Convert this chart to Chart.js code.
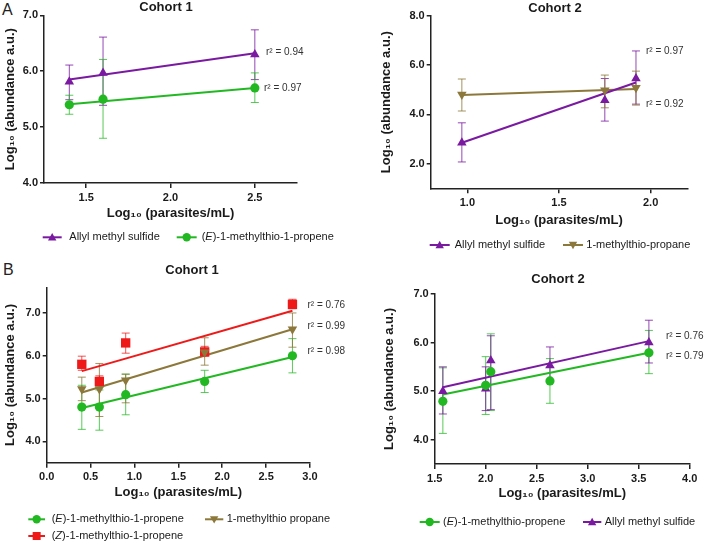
<!DOCTYPE html>
<html>
<head>
<meta charset="utf-8">
<script src="https://cdn.jsdelivr.net/npm/chart.js@4.4.1/dist/chart.umd.min.js"></script>
<style>
  body { margin: 0; background: #fff; width: 706px; height: 543px; position: relative; overflow: hidden;
         font-family: "Liberation Sans", Arial, sans-serif; }
  .panel { position: absolute; }
  .letter { position: absolute; font-size: 16px; color: #222; line-height: 16px; }
</style>
</head>
<body>
<div class="letter" style="left:2px;top:2px">A</div>
<div class="letter" style="left:3px;top:262px">B</div>
<div class="panel" style="left:0;top:0"><canvas id="a1" width="353" height="272"></canvas></div>
<div class="panel" style="left:353px;top:0"><canvas id="a2" width="353" height="272"></canvas></div>
<div class="panel" style="left:0;top:258px"><canvas id="b1" width="353" height="285"></canvas></div>
<div class="panel" style="left:353px;top:258px"><canvas id="b2" width="353" height="285"></canvas></div>
<script>
// ---- data ----
// A, cohort 1
const a1X = [1.4, 1.6, 2.5];
const a1Allyl = [5.81, 5.97, 6.30];
const a1AllylLo = [5.49, 5.39, 5.85];
const a1AllylHi = [6.11, 6.61, 6.74];
const a1AllylFit = [5.85, 6.32];
const a1E = [5.40, 5.50, 5.70];
const a1ELo = [5.23, 4.80, 5.44];
const a1EHi = [5.57, 6.21, 5.97];
const a1EFit = [5.41, 5.70];
const a1Names = ['Allyl methyl sulfide', '(*E*)-1-methylthio-1-propene'];
const a1R2 = ['r² = 0.94', 'r² = 0.97'];
const a1XTicks = [1.5, 2.0, 2.5];
const a1YTicks = [4, 5, 6, 7];

// A, cohort 2
const a2X = [0.97, 1.75, 1.92];
const a2Allyl = [2.85, 4.58, 5.46];
const a2AllylLo = [2.07, 3.73, 4.42];
const a2AllylHi = [3.66, 5.46, 6.58];
const a2AllylFit = [2.85, 5.30];
const a2Prop = [4.81, 4.98, 5.08];
const a2PropLo = [4.14, 4.27, 4.38];
const a2PropHi = [5.44, 5.60, 5.76];
const a2PropFit = [4.79, 5.03];
const a2Names = ['Allyl methyl sulfide', '1-methylthio-propane'];
const a2R2 = ['r² = 0.97', 'r² = 0.92'];
const a2XTicks = [1.0, 1.5, 2.0];
const a2YTicks = [2, 4, 6, 8];

// B, cohort 1
const b1X = [0.4, 0.6, 0.9, 1.8, 2.8];
const b1E = [4.80, 4.80, 5.09, 5.40, 6.00];
const b1ELo = [4.28, 4.26, 4.62, 5.14, 5.60];
const b1EHi = [5.31, 5.20, 5.57, 5.66, 6.40];
const b1EFit = [4.78, 5.97];
const b1Prop = [5.22, 5.22, 5.43, 6.08, 6.62];
const b1PropLo = [4.95, 4.58, 4.90, 5.78, 6.20];
const b1PropHi = [5.50, 5.82, 5.57, 6.42, 7.00];
const b1PropFit = [5.14, 6.62];
const b1Z = [5.80, 5.40, 6.30, 6.09, 7.20];
const b1ZLo = [5.66, 5.27, 6.06, 5.99, 7.10];
const b1ZHi = [5.99, 5.53, 6.53, 6.22, 7.32];
const b1ZFit = [5.64, 7.05];
const b1Names = ['(*E*)-1-methylthio-1-propene', '1-methylthio propane', '(*Z*)-1-methylthio-1-propene'];
const b1R2 = ['r² = 0.76', 'r² = 0.99', 'r² = 0.98'];
const b1XTicks = [0.0, 0.5, 1.0, 1.5, 2.0, 2.5, 3.0];
const b1YTicks = [4, 5, 6, 7];

// B, cohort 2
const b2X = [1.58, 2.0, 2.05, 2.63, 3.6];
const b2E = [4.79, 5.12, 5.40, 5.21, 5.79];
const b2ELo = [4.13, 4.52, 4.60, 4.75, 5.36];
const b2EHi = [5.48, 5.71, 6.18, 5.67, 6.25];
const b2EFit = [4.93, 5.79];
const b2Allyl = [5.00, 5.05, 5.63, 5.53, 6.00];
const b2AllylLo = [4.53, 4.60, 4.62, 5.20, 5.58];
const b2AllylHi = [5.50, 5.50, 6.14, 5.91, 6.46];
const b2AllylFit = [5.08, 6.03];
const b2Names = ['(*E*)-1-methylthio-propene', 'Allyl methyl sulfide'];
const b2R2 = ['r² = 0.76', 'r² = 0.79'];
const b2XTicks = [1.5, 2.0, 2.5, 3.0, 3.5, 4.0];
const b2YTicks = [4, 5, 6, 7];

// ---- styles ----
const PURPLE = '#7a1aa0', GREEN = '#22b822', OLIVE = '#8c783a', RED = '#ee1a1a';
const ERR = { [PURPLE]: 'rgba(122,26,160,0.8)', [GREEN]: 'rgba(34,184,34,0.75)',
              [OLIVE]: 'rgba(140,120,58,0.8)', [RED]: 'rgba(238,26,26,0.75)' };
const MARK = {
  tri: { pointStyle: 'triangle', rotation: 0, radius: 5.5 },
  inv: { pointStyle: 'triangle', rotation: 180, radius: 5.5 },
  dot: { pointStyle: 'circle', rotation: 0, radius: 4.6 },
  sq:  { pointStyle: 'rect', rotation: 0, radius: 6.6 }
};
const TXT = '#1a1a1a';
Chart.defaults.font.family = '"Liberation Sans", Arial, sans-serif';

const errorBars = {
  id: 'errorBars',
  beforeDatasetsDraw(chart) {
    const { ctx, scales: { x, y } } = chart;
    chart.data.datasets.forEach(ds => {
      if (!ds.errLo) return;
      ctx.save();
      ctx.strokeStyle = ERR[ds.borderColor];
      ctx.lineWidth = 1;
      ds.data.forEach((p, i) => {
        const px = x.getPixelForValue(p.x);
        const t = y.getPixelForValue(ds.errHi[i]);
        const b = y.getPixelForValue(ds.errLo[i]);
        ctx.beginPath();
        ctx.moveTo(px, t); ctx.lineTo(px, b);
        ctx.moveTo(px - 4, t); ctx.lineTo(px + 4, t);
        ctx.moveTo(px - 4, b); ctx.lineTo(px + 4, b);
        ctx.stroke();
      });
      ctx.restore();
    });
  }
};

function drawMarker(ctx, kind, x, y, color, r) {
  ctx.fillStyle = color;
  ctx.beginPath();
  if (kind === 'dot') ctx.arc(x, y, r, 0, Math.PI * 2);
  else if (kind === 'sq') ctx.rect(x - r, y - r, 2 * r, 2 * r);
  else if (kind === 'tri') { ctx.moveTo(x, y - r); ctx.lineTo(x + r, y + r * 0.75); ctx.lineTo(x - r, y + r * 0.75); }
  else { ctx.moveTo(x, y + r); ctx.lineTo(x + r, y - r * 0.75); ctx.lineTo(x - r, y - r * 0.75); }
  ctx.closePath();
  ctx.fill();
}

function drawRich(ctx, text, x, y) {
  text.split('*').forEach((part, i) => {
    ctx.font = (i % 2 ? 'italic ' : '') + '11px "Liberation Sans", Arial, sans-serif';
    ctx.fillText(part, x, y);
    x += ctx.measureText(part).width;
  });
}

const deco = {
  id: 'deco',
  afterDraw(chart, args, o) {
    const ctx = chart.ctx;
    ctx.save();
    ctx.fillStyle = TXT;
    ctx.textBaseline = 'middle';
    ctx.textAlign = 'center';
    ctx.font = 'bold 13px "Liberation Sans", Arial, sans-serif';
    ctx.fillText(o.title.text, o.title.x, o.title.y);
    ctx.textAlign = 'left';
    ctx.fillStyle = '#333';
    ctx.font = '10px "Liberation Sans", Arial, sans-serif';
    o.r2.forEach(r => ctx.fillText(r.text, r.x, r.y));
    o.legend.forEach(it => {
      ctx.strokeStyle = it.color;
      ctx.lineWidth = 2;
      ctx.beginPath();
      ctx.moveTo(it.x1, it.y); ctx.lineTo(it.x2, it.y);
      ctx.stroke();
      drawMarker(ctx, it.mark, (it.x1 + it.x2) / 2, it.y, it.color, it.mark === 'sq' ? 4 : 4.2);
      ctx.fillStyle = TXT;
      drawRich(ctx, it.label, it.tx, it.y);
    });
    ctx.restore();
  }
};

function series(xs, ys, lo, hi, fit, color, mark) {
  const pts = xs.map((x, i) => ({ x, y: ys[i] }));
  const m = MARK[mark];
  return [
    { data: pts, errLo: lo, errHi: hi, borderColor: color, backgroundColor: color,
      pointStyle: m.pointStyle, rotation: m.rotation, pointRadius: m.radius, pointBorderWidth: 0,
      showLine: false, order: 1, clip: false },
    { data: [{ x: xs[0], y: fit[0] }, { x: xs[xs.length - 1], y: fit[1] }], borderColor: color,
      backgroundColor: color, borderWidth: 2, pointRadius: 0, showLine: true, order: 2, clip: false }
  ];
}

function axis(min, max, ticks, size, title, isX) {
  return {
    type: 'linear', min, max,
    afterBuildTicks: s => { s.ticks = ticks.map(v => ({ value: v })); },
    afterFit: s => { if (isX) s.height = size; else s.width = size; },
    border: { display: true, color: '#222', width: 1.5 },
    grid: { display: true, drawOnChartArea: false, drawTicks: true, tickLength: isX ? 5 : 4,
            color: '#222', lineWidth: 1.5 },
    ticks: { callback: v => Number(v).toFixed(1), color: TXT, padding: isX ? 3 : 2,
             font: { size: 11, weight: 'bold' }, maxRotation: 0, autoSkip: false },
    title: { display: true, text: title, color: TXT, padding: 0,
             font: { size: 13, weight: 'bold', lineHeight: 1 } }
  };
}

function makePanel(id, p) {
  const { ox, oy, w, h, area } = p;
  const padLeft = p.yTitleX - ox - 6.5;
  const yW = area.L - ox - padLeft;
  const xBottom = p.xTitleY + 6.5 - oy;
  const xH = p.xTitleY + 6.5 - area.B;
  const rel = o => Object.assign({}, o, { x: o.x - ox, y: o.y - oy });
  new Chart(document.getElementById(id), {
    type: 'scatter',
    data: { datasets: p.datasets },
    options: {
      responsive: false, animation: false, devicePixelRatio: 1,
      layout: { padding: { left: padLeft, top: area.T - oy, right: ox + w - area.R, bottom: h - xBottom } },
      scales: {
        x: axis(p.xMin, p.xMax, p.xTicks, xH, 'Log₁₀ (parasites/mL)', true),
        y: axis(p.yMin, p.yMax, p.yTicks, yW, 'Log₁₀ (abundance a.u.)', false)
      },
      plugins: {
        legend: { display: false }, tooltip: { enabled: false },
        deco: {
          title: rel(p.title),
          r2: p.r2.map(rel),
          legend: p.legend.map(it => Object.assign({}, it, { x1: it.x1 - ox, x2: it.x2 - ox, tx: it.tx - ox, y: it.y - oy }))
        }
      }
    },
    plugins: [errorBars, deco]
  });
}

makePanel('a1', {
  ox: 0, oy: 0, w: 353, h: 272, area: { L: 44, T: 15.3, R: 297, B: 183 },
  yTitleX: 10, xTitleY: 213,
  xMin: 1.25, xMax: 2.75, xTicks: a1XTicks, yMin: 4, yMax: 7, yTicks: a1YTicks,
  datasets: [...series(a1X, a1Allyl, a1AllylLo, a1AllylHi, a1AllylFit, PURPLE, 'tri'),
             ...series(a1X, a1E, a1ELo, a1EHi, a1EFit, GREEN, 'dot')],
  title: { text: 'Cohort 1', x: 166, y: 7.5 },
  r2: [{ text: a1R2[0], x: 266, y: 52 }, { text: a1R2[1], x: 264, y: 88 }],
  legend: [{ label: a1Names[0], color: PURPLE, mark: 'tri', x1: 42.7, x2: 61.7, tx: 69.3, y: 237.3 },
           { label: a1Names[1], color: GREEN, mark: 'dot', x1: 176.7, x2: 196.7, tx: 201.7, y: 237.3 }]
});

makePanel('a2', {
  ox: 353, oy: 0, w: 353, h: 272, area: { L: 430.7, T: 16, R: 687.3, B: 188.3 },
  yTitleX: 386, xTitleY: 220,
  xMin: 0.8, xMax: 2.2, xTicks: a2XTicks, yMin: 1, yMax: 8, yTicks: a2YTicks,
  datasets: [...series(a2X, a2Allyl, a2AllylLo, a2AllylHi, a2AllylFit, PURPLE, 'tri'),
             ...series(a2X, a2Prop, a2PropLo, a2PropHi, a2PropFit, OLIVE, 'inv')],
  title: { text: 'Cohort 2', x: 555, y: 8 },
  r2: [{ text: a2R2[0], x: 646, y: 51.7 }, { text: a2R2[1], x: 646, y: 104.3 }],
  legend: [{ label: a2Names[0], color: PURPLE, mark: 'tri', x1: 429.7, x2: 449.7, tx: 454.7, y: 245 },
           { label: a2Names[1], color: OLIVE, mark: 'inv', x1: 563, x2: 583, tx: 586.3, y: 245 }]
});

makePanel('b1', {
  ox: 0, oy: 258, w: 353, h: 285, area: { L: 46.7, T: 287.3, R: 310, B: 462.7 },
  yTitleX: 10, xTitleY: 492,
  xMin: 0, xMax: 3, xTicks: b1XTicks, yMin: 3.5, yMax: 7.6, yTicks: b1YTicks,
  datasets: [...series(b1X, b1E, b1ELo, b1EHi, b1EFit, GREEN, 'dot'),
             ...series(b1X, b1Prop, b1PropLo, b1PropHi, b1PropFit, OLIVE, 'inv'),
             ...series(b1X, b1Z, b1ZLo, b1ZHi, b1ZFit, RED, 'sq')],
  title: { text: 'Cohort 1', x: 192, y: 270 },
  r2: [{ text: b1R2[0], x: 307.5, y: 305 }, { text: b1R2[1], x: 307.5, y: 326 }, { text: b1R2[2], x: 307.5, y: 351.7 }],
  legend: [{ label: b1Names[0], color: GREEN, mark: 'dot', x1: 28.3, x2: 45, tx: 51.7, y: 519.3 },
           { label: b1Names[1], color: OLIVE, mark: 'inv', x1: 205, x2: 223.3, tx: 226.7, y: 519.3 },
           { label: b1Names[2], color: RED, mark: 'sq', x1: 28.3, x2: 45, tx: 51.7, y: 536 }]
});

makePanel('b2', {
  ox: 353, oy: 258, w: 353, h: 285, area: { L: 434.7, T: 294, R: 689.7, B: 464 },
  yTitleX: 389.7, xTitleY: 493.7,
  xMin: 1.5, xMax: 4, xTicks: b2XTicks, yMin: 3.5, yMax: 7, yTicks: b2YTicks,
  datasets: [...series(b2X, b2E, b2ELo, b2EHi, b2EFit, GREEN, 'dot'),
             ...series(b2X, b2Allyl, b2AllylLo, b2AllylHi, b2AllylFit, PURPLE, 'tri')],
  title: { text: 'Cohort 2', x: 558, y: 279.5 },
  r2: [{ text: b2R2[0], x: 666, y: 336 }, { text: b2R2[1], x: 666, y: 356 }],
  legend: [{ label: b2Names[0], color: GREEN, mark: 'dot', x1: 419.7, x2: 439.7, tx: 443, y: 522 },
           { label: b2Names[1], color: PURPLE, mark: 'tri', x1: 583, x2: 601.3, tx: 604.7, y: 522 }]
});
</script>
</body>
</html>
